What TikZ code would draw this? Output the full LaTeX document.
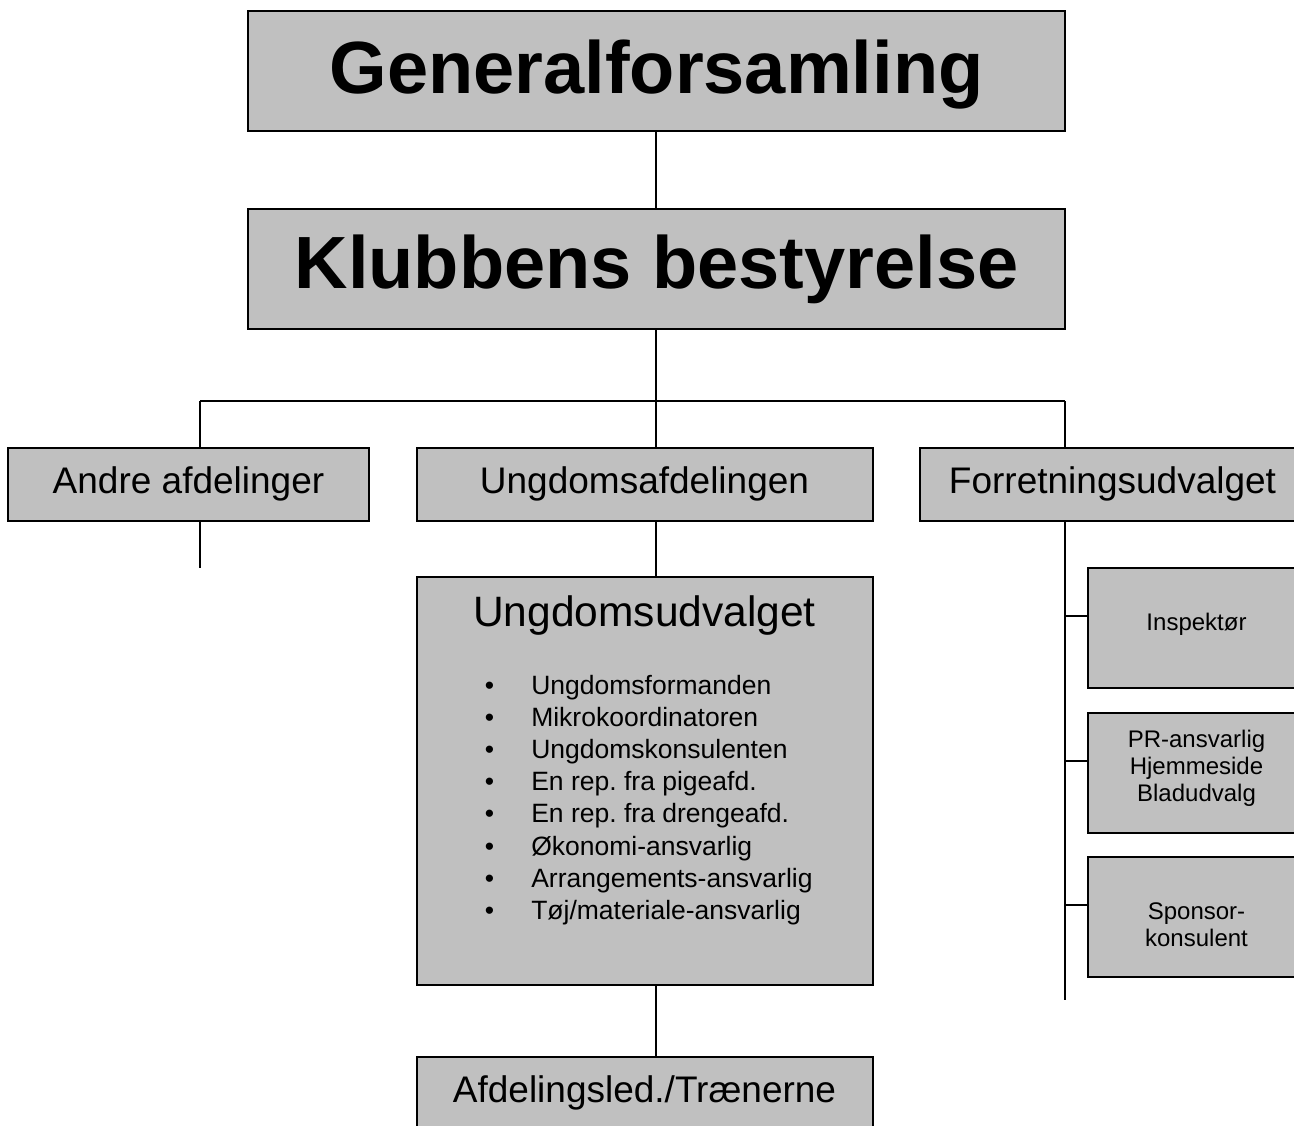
\documentclass[tikz,border=0pt]{standalone}
\usepackage{fontspec}
\setmainfont{Liberation Sans}
\usepackage{xcolor}
\usetikzlibrary{positioning}
\definecolor{boxgray}{HTML}{C0C0C0}

\begin{document}
\frenchspacing
\begin{tikzpicture}[x=1pt, y=-1pt,
  orgbox/.style={draw=black, fill=boxgray, line width=2pt, rectangle, inner sep=0pt},
  conn/.style={draw=black, line width=1.6pt},
  txt/.style={anchor=base, inner sep=0pt, align=center},
  huge/.style={font=\fontsize{74}{89}\selectfont\bfseries},
  mid/.style={font=\fontsize{37}{44}\selectfont},
  item/.style={anchor=base west, inner sep=0pt, font=\fontsize{26.5}{32}\selectfont},
  small/.style={font=\fontsize{24}{27}\selectfont}]
\useasboundingbox (0,0) rectangle (1294,1126);
\clip (0,0) rectangle (1294,1126);

% top levels
\node[orgbox, minimum width=817, minimum height=120] (gf) at (656.5,71) {};
\node[txt, huge] (gftext) at (656.5,94) {Generalforsamling};
\node[orgbox, minimum width=817, minimum height=120] (kb) at (656.5,269) {};
\node[txt, huge] (kbtext) at (656.5,289) {Klubbens bestyrelse};

% departments
\node[orgbox, minimum width=361, minimum height=73] (andre) at (188.5,484.5) {};
\node[txt, mid] (andretext) at (188.5,493) {Andre afdelinger};
\node[orgbox, minimum width=456, minimum height=73] (ungafd) at (644.5,484.5) {};
\node[txt, mid] (ungafdtext) at (644.5,493) {Ungdomsafdelingen};
\node[orgbox, minimum width=385, minimum height=73] (forr) at (1112.5,484.5) {};
\node[txt, mid] (forrtext) at (1112.5,493) {Forretningsudvalget};

% youth committee
\node[orgbox, minimum width=456, minimum height=408] (udv) at (644.5,781) {};
\node[txt, font=\fontsize{42.5}{51}\selectfont] (udvtext) at (644.5,626) {Ungdomsudvalget};
\node[item] (it1) at (484.6,694) {\makebox[46.5pt][l]{•}Ungdomsformanden};
\node[item] (it2) at (484.6,726.2) {\makebox[46.5pt][l]{•}Mikrokoordinatoren};
\node[item] (it3) at (484.6,758.4) {\makebox[46.5pt][l]{•}Ungdomskonsulenten};
\node[item] (it4) at (484.6,790.6) {\makebox[46.5pt][l]{•}En rep. fra pigeafd.};
\node[item] (it5) at (484.6,822.8) {\makebox[46.5pt][l]{•}En rep. fra drengeafd.};
\node[item] (it6) at (484.6,855) {\makebox[46.5pt][l]{•}Økonomi-ansvarlig};
\node[item] (it7) at (484.6,887.2) {\makebox[46.5pt][l]{•}Arrangements-ansvarlig};
\node[item] (it8) at (484.6,919.4) {\makebox[46.5pt][l]{•}Tøj/materiale-ansvarlig};

\node[orgbox, minimum width=456, minimum height=73] (traen) at (644.5,1093.5) {};
\node[txt, mid] (traentext) at (644.5,1102) {Afdelingsled./Trænerne};

% business committee
\node[orgbox, minimum width=217, minimum height=120] (insp) at (1196.5,628) {};
\node[txt, small] (insptext) at (1196.5,630) {Inspektør};
\node[orgbox, minimum width=217, minimum height=120] (pr) at (1196.5,773) {};
\node[txt, small] (prtext) at (1196.5,801) {PR-ansvarlig\\Hjemmeside\\Bladudvalg};
\node[orgbox, minimum width=217, minimum height=120] (spons) at (1196.5,917) {};
\node[txt, small] (sponstext) at (1196.5,946) {Sponsor-\\konsulent};

% connectors
\coordinate (fork) at (656,401);
\coordinate (forkL) at (200,401);
\coordinate (forkR) at (1065,401);
\coordinate (andreend) at (200,568);
\coordinate (spineend) at (1065,1000);
\draw[conn] (gf.south -| fork) -- (kb.north -| fork);
\draw[conn] (kb.south -| fork) -- (fork);
\draw[conn] (forkL) -- (forkR);
\draw[conn] (forkL) -- (forkL |- andre.north);
\draw[conn] (fork) -- (fork |- ungafd.north);
\draw[conn] (forkR) -- (forkR |- forr.north);
\draw[conn] (andreend |- andre.south) -- (andreend);
\draw[conn] (fork |- ungafd.south) -- (fork |- udv.north);
\draw[conn] (fork |- udv.south) -- (fork |- traen.north);
\draw[conn] (spineend |- forr.south) -- (spineend);
\draw[conn] ([yshift=12pt]insp.west) -- +(-23,0);
\draw[conn] ([yshift=12pt]pr.west) -- +(-23,0);
\draw[conn] ([yshift=12pt]spons.west) -- +(-23,0);
\end{tikzpicture}
\end{document}
